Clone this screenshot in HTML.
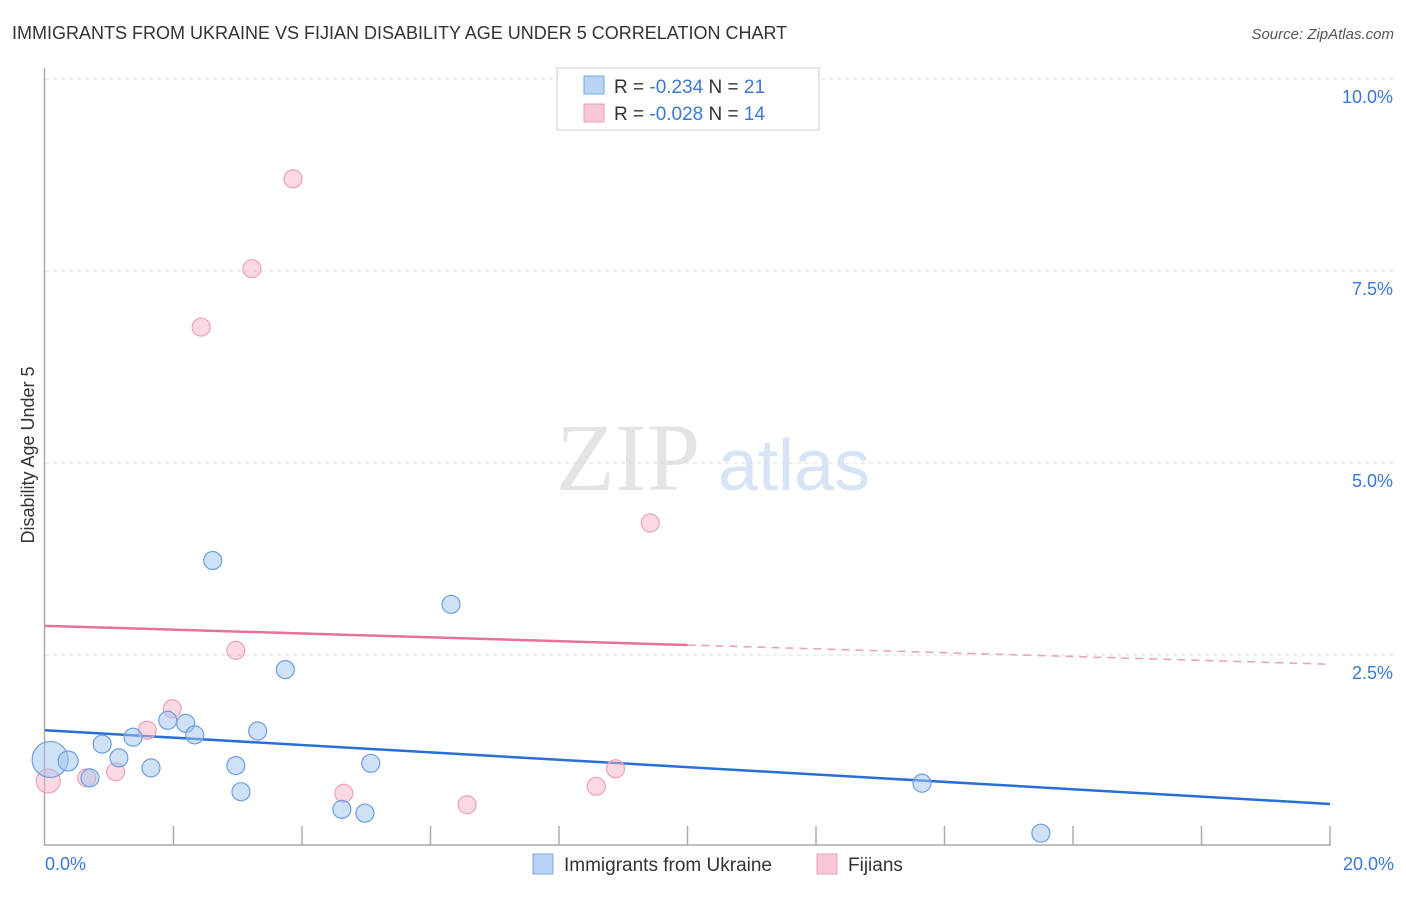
<!DOCTYPE html>
<html><head><meta charset="utf-8"><style>
body{margin:0;background:#fff;font-family:"Liberation Sans",sans-serif;}
</style></head><body>
<svg width="1406" height="892" xmlns="http://www.w3.org/2000/svg">
<text x="12" y="39" font-size="18" fill="#333">IMMIGRANTS FROM UKRAINE VS FIJIAN DISABILITY AGE UNDER 5 CORRELATION CHART</text>
<text x="1394" y="39" font-size="15" fill="#555" font-style="italic" text-anchor="end">Source: ZipAtlas.com</text>
<text x="556" y="490" font-size="96" fill="#e4e4e4" font-family="Liberation Serif,serif">ZIP</text>
<text x="718" y="490" font-size="72" fill="#d6e4f5">atlas</text>
<g id="grid"></g>
<line x1="44.5" y1="68" x2="44.5" y2="845" stroke="#aaa" stroke-width="1.5"/>
<line x1="44" y1="845" x2="1331" y2="845" stroke="#aaa" stroke-width="1.5"/>
<g id="ticks"></g>
<text x="34" y="455" font-size="18" fill="#333" text-anchor="middle" transform="rotate(-90 34 455)">Disability Age Under 5</text>
<text x="45" y="870" font-size="18" fill="#3a78d4">0.0%</text>
<text x="1394" y="870" font-size="18" fill="#3a78d4" text-anchor="end">20.0%</text>
<g id="lines"></g>
<g id="points"></g>
<g>
<rect x="557" y="68" width="262" height="62" fill="#fff" stroke="#ccc"/>
<rect x="584" y="76" width="20" height="18" fill="#b8d3f5" stroke="#7aa7e0"/>
<text x="614" y="93" font-size="19" fill="#333">R = <tspan fill="#3a78d4">-0.234</tspan>   N = <tspan fill="#3a78d4">21</tspan></text>
<rect x="584" y="104" width="20" height="18" fill="#f8c8d6" stroke="#eaa0b8"/>
<text x="614" y="120" font-size="19" fill="#333">R = <tspan fill="#3a78d4">-0.028</tspan>   N = <tspan fill="#3a78d4">14</tspan></text>
</g>
<g>
<rect x="533" y="854" width="20" height="20" fill="#b8d3f5" stroke="#7aa7e0"/>
<text x="564" y="871" font-size="19" fill="#333">Immigrants from Ukraine</text>
<rect x="817" y="854" width="20" height="20" fill="#f8c8d6" stroke="#eaa0b8"/>
<text x="848" y="871" font-size="19" fill="#333">Fijians</text>
</g>
</svg>
<script>
const yTicks=[2.5,5.0,7.5,10.0];
const xTicks=[2,4,6,8,10,12,14,16,18,20];
const blueX=[0.08,0.36,0.70,0.89,1.15,1.37,1.65,1.91,2.19,2.33,2.61,2.97,3.05,3.31,3.74,4.62,4.98,5.07,6.32,13.65,15.50];
const blueY=[1.14,1.12,0.90,1.34,1.16,1.43,1.03,1.65,1.61,1.46,3.73,1.06,0.72,1.51,2.31,0.49,0.44,1.09,3.16,0.83,0.18];
const blueR=[18,10,9,9,9,9,9,9,9,9,9,9,9,9,9,9,9,9,9,9,9];
const pinkX=[0.05,0.65,1.10,1.59,1.98,2.43,2.97,3.22,3.86,4.65,6.57,8.58,8.88,9.42];
const pinkY=[0.86,0.90,0.98,1.52,1.80,6.77,2.56,7.53,8.70,0.70,0.55,0.79,1.02,4.22];
const pinkR=[12,9,9,9,9,9,9,9,9,9,9,9,9,9];
const blueTrend=[1.52,0.56];
const pinkTrend=[2.88,2.38];
const pinkSolidEnd=10;
const X=v=>45+v*64.25, Y=v=>847-v*76.8;
const NS="http://www.w3.org/2000/svg";
function mk(t,a,p){const e=document.createElementNS(NS,t);for(const k in a)e.setAttribute(k,a[k]);document.getElementById(p).appendChild(e);return e;}
yTicks.forEach(v=>{
 const l=mk('line',{x1:45,x2:1395,y1:Y(v),y2:Y(v),stroke:'#ddd','stroke-dasharray':'4,4'},'grid');
 
 
 const t=mk('text',{x:1393,y:Y(v)+24,'font-size':18,fill:'#3a78d4','text-anchor':'end'},'grid');
 t.textContent=v.toFixed(1)+'%';
 
 
});
xTicks.forEach(v=>{
 const l=mk('line',{x1:X(v),x2:X(v),y1:826,y2:845,stroke:'#aaa','stroke-width':1.5},'ticks');
 
 
});
const lp=v=>pinkTrend[0]+(pinkTrend[1]-pinkTrend[0])*v/20;
let e=mk('line',{x1:X(0),y1:Y(blueTrend[0]),x2:X(20),y2:Y(blueTrend[1]),stroke:'#2a6fd6','stroke-width':2.5},'lines');


e=mk('line',{x1:X(0),y1:Y(lp(0)),x2:X(pinkSolidEnd),y2:Y(lp(pinkSolidEnd)),stroke:'#e8719a','stroke-width':2.5},'lines');


e=mk('line',{x1:X(pinkSolidEnd),y1:Y(lp(pinkSolidEnd)),x2:X(20),y2:Y(lp(20)),stroke:'#e8a0b8','stroke-width':1.5,'stroke-dasharray':'8,6'},'lines');


pinkX.forEach((x,i)=>{
 const c=mk('circle',{cx:X(x),cy:Y(pinkY[i]),r:pinkR[i],fill:'rgba(246,180,200,0.5)',stroke:'#eca0b9','stroke-width':1.2},'points');
 
 
});
blueX.forEach((x,i)=>{
 const c=mk('circle',{cx:X(x),cy:Y(blueY[i]),r:blueR[i],fill:'rgba(160,196,240,0.5)',stroke:'#6a9fe0','stroke-width':1.2},'points');
 
 
});
</script>
</body></html>
